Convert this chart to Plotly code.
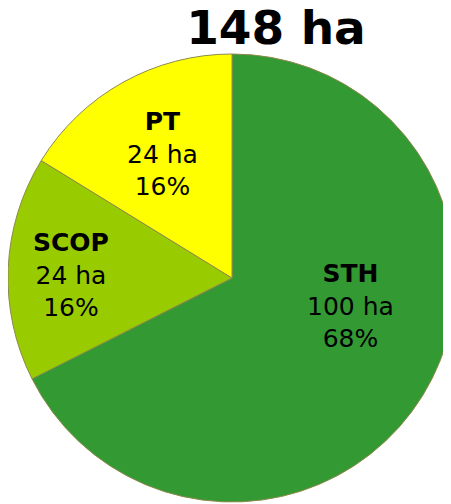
import math
import plotly.graph_objects as go

categories = ["STH", "SCOP", "PT"]
areas_ha = [100, 24, 24]
total_label = "148 ha"
colors = ["#339933", "#99cc00", "#ffff00"]

# label placement style (fraction of radius, angular offset in degrees)
label_r = [0.545, 0.72, 0.635]
label_dang = [-18.4, -1.5, 0.0]

W, H = 448, 504
T, B = 46, 10
R = (H - T - B) / 2.0
cx, cy = W / 2.0, T + R  # figure pixels

fig = go.Figure(go.Pie(
    labels=categories,
    values=areas_ha,
    sort=False,
    direction="clockwise",
    rotation=0,
    marker=dict(colors=colors, line=dict(color="#8c8a4a", width=1)),
    textinfo="none",
    hoverinfo="skip",
    showlegend=False,
))

total = sum(areas_ha)
cum = 0.0
annotations = []
for lab, v, rf, da in zip(categories, areas_ha, label_r, label_dang):
    mid = (cum + v / 2.0) / total * 360.0 + da
    cum += v
    th = math.radians(mid)
    px = cx + rf * R * math.sin(th)
    py = cy - rf * R * math.cos(th)
    pct = round(100 * v / total)
    annotations.append(dict(
        text=f"<b>{lab}</b><br>{v} ha<br>{pct}%",
        x=px / W, y=1 - (py - T) / (H - T - B), xref="paper", yref="paper",
        xanchor="center", yanchor="middle", showarrow=False, align="center",
        font=dict(family="DejaVu Sans", size=25, color="black"),
    ))

fig.update_layout(
    width=W, height=H,
    margin=dict(l=0, r=0, t=T, b=B),
    paper_bgcolor="white",
    annotations=annotations,
    title=dict(text=f"<b>{total_label}</b>", x=268 / W, xanchor="center", xref="container",
               y=1 - 20 / H, yanchor="middle", yref="container",
               font=dict(family="DejaVu Sans", size=47, color="black")),
)
fig.write_html("out.html")
